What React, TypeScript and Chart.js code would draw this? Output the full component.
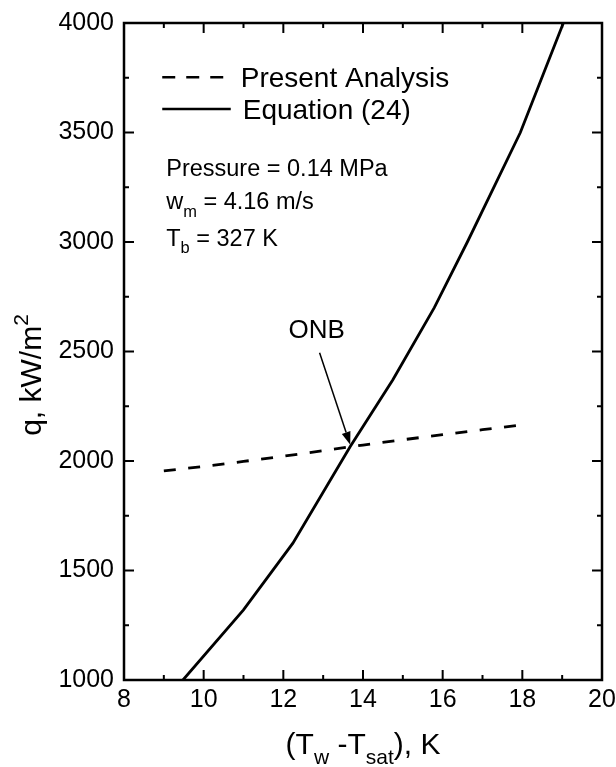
import React, { useEffect, useRef } from "react";
import { Chart, registerables } from "chart.js";

Chart.register(...registerables);

// ---- data ----
const presentX = [9, 10, 11, 12, 13, 14, 15, 16, 17, 18];
const presentQ = [1955, 1975, 1998, 2022, 2047, 2073, 2097, 2120, 2143, 2165];

const equationX = [9.48, 11, 12.24, 13.68, 14.75, 15.79, 16.62, 17.95, 19.03];
const equationQ = [1000, 1320, 1625, 2066, 2371, 2700, 3000, 3500, 4000];

const xTicks = [8, 10, 12, 14, 16, 18, 20];
const yTicks = [1000, 1500, 2000, 2500, 3000, 3500, 4000];

const FONT = '"Liberation Sans", Arial, Helvetica, sans-serif';

type Part = { t: string; sub?: boolean; sup?: boolean };

function partSize(p: Part, size: number) {
  return p.sub || p.sup ? size * 0.7 : size;
}

function richWidth(ctx: CanvasRenderingContext2D, parts: Part[], size: number) {
  let w = 0;
  for (const p of parts) {
    ctx.font = `${partSize(p, size)}px ${FONT}`;
    w += ctx.measureText(p.t).width;
  }
  return w;
}

function drawRich(
  ctx: CanvasRenderingContext2D,
  parts: Part[],
  x: number,
  y: number,
  size: number,
  align: "left" | "center"
) {
  const w = richWidth(ctx, parts, size);
  let cx = align === "center" ? x - w / 2 : x;
  ctx.textAlign = "left";
  ctx.textBaseline = "alphabetic";
  for (const p of parts) {
    ctx.font = `${partSize(p, size)}px ${FONT}`;
    const dy = p.sub ? size * 0.32 : p.sup ? -size * 0.42 : 0;
    ctx.fillText(p.t, cx, y + dy);
    cx += ctx.measureText(p.t).width;
  }
}

const decorPlugin = {
  id: "decor",
  afterDraw(chart: any) {
    const ctx: CanvasRenderingContext2D = chart.ctx;
    const xs = chart.scales.x;
    const ys = chart.scales.y;
    const a = chart.chartArea;
    ctx.save();
    ctx.strokeStyle = "#000";
    ctx.fillStyle = "#000";

    // frame
    ctx.lineWidth = 2.5;
    ctx.setLineDash([]);
    ctx.strokeRect(a.left, a.top, a.right - a.left, a.bottom - a.top);

    // ticks (inward, all four sides)
    ctx.lineWidth = 2;
    ctx.beginPath();
    for (let v = xs.min; v <= xs.max + 1e-9; v += 1) {
      const px = xs.getPixelForValue(v);
      const len = Math.abs(v % 2) < 1e-9 ? 10 : 5;
      ctx.moveTo(px, a.bottom);
      ctx.lineTo(px, a.bottom - len);
      ctx.moveTo(px, a.top);
      ctx.lineTo(px, a.top + len);
    }
    for (let v = ys.min; v <= ys.max + 1e-9; v += 250) {
      const py = ys.getPixelForValue(v);
      const len = Math.abs(v % 500) < 1e-9 ? 10 : 5;
      ctx.moveTo(a.left, py);
      ctx.lineTo(a.left + len, py);
      ctx.moveTo(a.right, py);
      ctx.lineTo(a.right - len, py);
    }
    ctx.stroke();

    const X = (v: number) => xs.getPixelForValue(v);
    const Y = (v: number) => ys.getPixelForValue(v);

    // legend
    const legendSize = 28;
    const capMid = legendSize * 0.36;
    const y1 = Y(3706);
    const y2 = Y(3561);
    ctx.lineWidth = 2.5;
    ctx.setLineDash([13, 11]);
    ctx.beginPath();
    ctx.moveTo(X(8.96), y1 - capMid);
    ctx.lineTo(X(10.5), y1 - capMid);
    ctx.stroke();
    ctx.setLineDash([]);
    ctx.beginPath();
    ctx.moveTo(X(8.96), y2 - capMid);
    ctx.lineTo(X(10.68), y2 - capMid);
    ctx.stroke();
    drawRich(ctx, [{ t: "Present Analysis" }], X(10.93), y1, legendSize, "left");
    drawRich(ctx, [{ t: "Equation (24)" }], X(10.98), y2, legendSize, "left");

    // parameters
    const ps = 23.5;
    drawRich(ctx, [{ t: "Pressure = 0.14 MPa" }], X(9.06), Y(3302), ps, "left");
    drawRich(ctx, [{ t: "w" }, { t: "m", sub: true }, { t: " = 4.16 m/s" }], X(9.06), Y(3149), ps, "left");
    drawRich(ctx, [{ t: "T" }, { t: "b", sub: true }, { t: " = 327 K" }], X(9.06), Y(2982), ps, "left");

    // ONB annotation
    drawRich(ctx, [{ t: "ONB" }], X(12.84), Y(2562), 26, "center");
    const tx = X(12.91), ty = Y(2494);
    const hx = X(13.68), hy = Y(2074);
    const ang = Math.atan2(hy - ty, hx - tx);
    const headLen = 13, headW = 4.5;
    const bx = hx - headLen * Math.cos(ang);
    const by = hy - headLen * Math.sin(ang);
    ctx.lineWidth = 1.5;
    ctx.beginPath();
    ctx.moveTo(tx, ty);
    ctx.lineTo(bx, by);
    ctx.stroke();
    ctx.beginPath();
    ctx.moveTo(hx, hy);
    ctx.lineTo(bx + headW * Math.sin(ang), by - headW * Math.cos(ang));
    ctx.lineTo(bx - headW * Math.sin(ang), by + headW * Math.cos(ang));
    ctx.closePath();
    ctx.fill();

    // axis titles
    const titleSize = 30;
    drawRich(
      ctx,
      [{ t: "(T" }, { t: "w", sub: true }, { t: " -T" }, { t: "sat", sub: true }, { t: "), K" }],
      (a.left + a.right) / 2,
      754,
      titleSize,
      "center"
    );
    ctx.save();
    ctx.translate(41, 375);
    ctx.rotate(-Math.PI / 2);
    drawRich(ctx, [{ t: "q, kW/m" }, { t: "2", sup: true }], 0, 0, titleSize, "center");
    ctx.restore();

    ctx.restore();
  },
};

export default function App() {
  const ref = useRef<HTMLCanvasElement | null>(null);
  useEffect(() => {
    if (!ref.current) return;
    const chart = new Chart(ref.current, {
      type: "scatter",
      data: {
        datasets: [
          {
            label: "Present Analysis",
            data: presentX.map((x, i) => ({ x, y: presentQ[i] })),
            showLine: true,
            borderColor: "#000",
            borderWidth: 2.8,
            borderDash: [12, 12.5],
            pointRadius: 0,
            tension: 0,
            fill: false,
          },
          {
            label: "Equation (24)",
            data: equationX.map((x, i) => ({ x, y: equationQ[i] })),
            showLine: true,
            borderColor: "#000",
            borderWidth: 2.8,
            pointRadius: 0,
            tension: 0,
            fill: false,
          },
        ],
      },
      options: {
        responsive: false,
        animation: false,
        events: [],
        layout: { padding: { top: 23, right: 14, left: 0, bottom: 0 } },
        plugins: {
          legend: { display: false },
          tooltip: { enabled: false },
          title: { display: false },
        },
        scales: {
          x: {
            type: "linear",
            min: 8,
            max: 20,
            afterBuildTicks: (s: any) => {
              s.ticks = xTicks.map((v) => ({ value: v }));
            },
            afterFit: (s: any) => {
              s.height = 87;
              s.paddingLeft = 0;
              s.paddingRight = 0;
              s.paddingTop = 0;
              s.paddingBottom = 0;
            },
            grid: { display: false, drawTicks: false },
            border: { display: false },
            ticks: {
              color: "#000",
              padding: 5,
              font: { family: FONT, size: 25 },
              maxRotation: 0,
              callback: (v: any) => String(v),
            },
          },
          y: {
            type: "linear",
            min: 1000,
            max: 4000,
            afterBuildTicks: (s: any) => {
              s.ticks = yTicks.map((v) => ({ value: v }));
            },
            afterFit: (s: any) => {
              s.width = 124;
              s.paddingLeft = 0;
              s.paddingRight = 0;
              s.paddingTop = 0;
              s.paddingBottom = 0;
            },
            grid: { display: false, drawTicks: false },
            border: { display: false },
            ticks: {
              color: "#000",
              padding: 10,
              font: { family: FONT, size: 25 },
              callback: (v: any) => String(v),
            },
          },
        },
      },
      plugins: [decorPlugin],
    } as any);
    return () => chart.destroy();
  }, []);
  return (
    <div style={{ position: "fixed", left: 0, top: 0, width: 616, height: 767, background: "#fff" }}>
      <canvas ref={ref} width={616} height={767} style={{ display: "block" }} />
    </div>
  );
}
